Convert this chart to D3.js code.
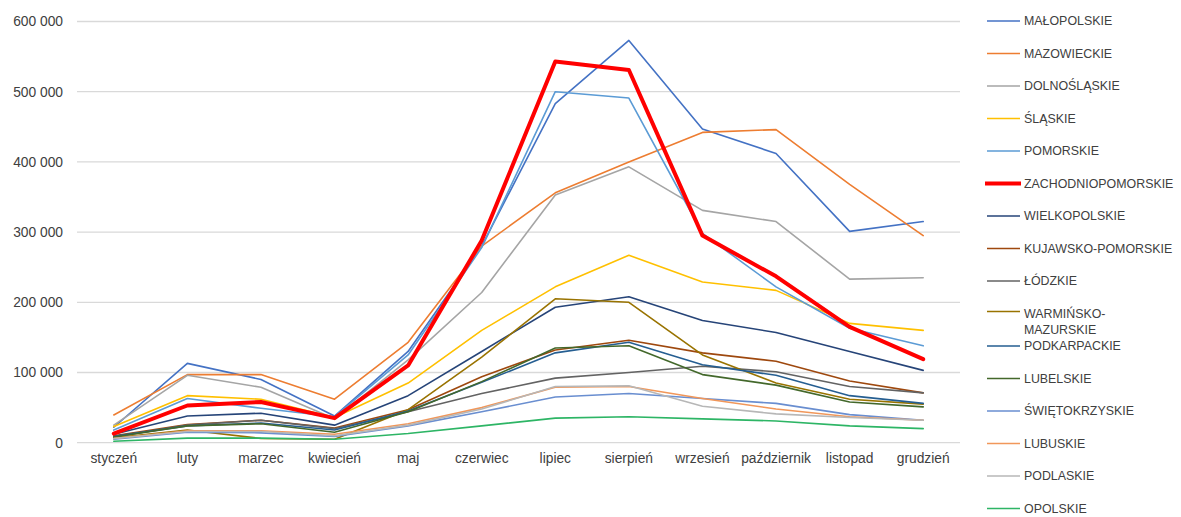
<!DOCTYPE html>
<html lang="pl">
<head>
<meta charset="utf-8">
<script src="https://cdn.jsdelivr.net/npm/d3@7"></script>
<style>
  html, body { margin: 0; padding: 0; background: #fff; }
  svg { display: block; }
  text { font-family: "Liberation Sans", Arial, sans-serif; fill: #404040; }
</style>
</head>
<body>
<svg id="chart" width="1181" height="517"></svg>
<script>
// Months on the x axis
const months = ["styczeń", "luty", "marzec", "kwiecień", "maj", "czerwiec",
  "lipiec", "sierpień", "wrzesień", "październik", "listopad", "grudzień"];

// Y axis ticks
const yTicks = [0, 100000, 200000, 300000, 400000, 500000, 600000];

// Voivodeship names, in legend order
const regions = ["MAŁOPOLSKIE", "MAZOWIECKIE", "DOLNOŚLĄSKIE", "ŚLĄSKIE", "POMORSKIE",
  "ZACHODNIOPOMORSKIE", "WIELKOPOLSKIE", "KUJAWSKO-POMORSKIE", "ŁÓDZKIE",
  "WARMIŃSKO-MAZURSKIE", "PODKARPACKIE", "LUBELSKIE", "ŚWIĘTOKRZYSKIE",
  "LUBUSKIE", "PODLASKIE", "OPOLSKIE"];

const colors = ["#4472C4", "#ED7D31", "#A5A5A5", "#FFC000", "#5B9BD5",
  "#FF0000", "#264478", "#9E480E", "#636363",
  "#997300", "#255E91", "#43682B", "#698ED0",
  "#F1975A", "#B7B7B7", "#2DB565"];

// Monthly values per voivodeship
const malopolskie        = [22000, 113000, 90000, 38000, 130000, 280000, 483000, 573000, 447000, 412000, 301000, 315000];
const mazowieckie        = [39500, 97000, 97000, 62000, 143000, 280000, 356000, 400000, 442000, 446000, 368000, 295000];
const dolnoslaskie       = [25000, 96000, 79000, 34000, 118000, 214000, 353000, 393000, 331000, 315000, 233000, 235000];
const slaskie            = [23000, 67000, 62000, 36000, 85000, 160000, 222000, 267000, 229000, 217000, 170000, 160000];
const pomorskie          = [18000, 63000, 49000, 37000, 125000, 278000, 500000, 491000, 298000, 222000, 163000, 138000];
const zachodniopomorskie = [13000, 53000, 58000, 35000, 110000, 288000, 543000, 531000, 295000, 237000, 165000, 119000];
const wielkopolskie      = [12000, 38000, 42000, 25000, 67000, 130000, 193000, 208000, 174000, 157000, 130000, 103000];
const kujawskoPomorskie  = [10000, 26000, 32000, 21000, 47000, 94000, 132000, 146000, 128000, 116000, 88000, 71000];
const lodzkie            = [8000, 25000, 32000, 20000, 44000, 70000, 92000, 100000, 109000, 101000, 80000, 71000];
const warminskoMazurskie = [7000, 18000, 6000, 5000, 47000, 122000, 205000, 200000, 125000, 85000, 62000, 55000];
const podkarpackie       = [9000, 24000, 28000, 18000, 45000, 86000, 128000, 143000, 111000, 96000, 67000, 56000];
const lubelskie          = [8000, 24000, 27000, 15000, 44000, 87000, 135000, 138000, 97000, 82000, 58000, 51000];
const swietokrzyskie     = [5000, 15000, 14000, 9000, 24000, 44000, 65000, 70000, 63000, 56000, 40000, 32000];
const lubuskie           = [6000, 17000, 17000, 12000, 27000, 50000, 79000, 80000, 63000, 48000, 37000, 32000];
const podlaskie          = [6000, 16000, 16000, 10000, 25000, 48000, 80000, 81000, 52000, 41000, 36000, 32000];
const opolskie           = [2000, 6500, 6500, 5000, 13000, 24000, 35000, 37000, 34000, 31000, 24000, 20000];

const seriesValues = [malopolskie, mazowieckie, dolnoslaskie, slaskie, pomorskie,
  zachodniopomorskie, wielkopolskie, kujawskoPomorskie, lodzkie, warminskoMazurskie,
  podkarpackie, lubelskie, swietokrzyskie, lubuskie, podlaskie, opolskie];

const series = regions.map((name, i) => ({ name, color: colors[i], values: seriesValues[i] }));

const svg = d3.select("#chart");
const plot = { left: 77, right: 960, top: 21.5, bottom: 442.7 };

const x = d3.scaleBand().domain(months).range([plot.left, plot.right]);
const y = d3.scaleLinear().domain([0, 600000]).range([plot.bottom, plot.top]);

const fmt = v => d3.format(",")(v).replace(/,/g, " ");

// Horizontal gridlines
svg.append("g")
  .selectAll("line")
  .data(yTicks)
  .join("line")
  .attr("x1", plot.left).attr("x2", plot.right)
  .attr("y1", d => y(d)).attr("y2", d => y(d))
  .attr("stroke", "#d9d9d9").attr("stroke-width", 1.3);

// Y axis labels
const yAxis = svg.append("g")
  .attr("transform", `translate(${plot.left - 14},0)`)
  .call(d3.axisLeft(y).tickValues(yTicks).tickFormat(fmt).tickSize(0).tickPadding(0));
yAxis.select(".domain").remove();
yAxis.selectAll("text")
  .attr("font-size", 13.8)
  .attr("font-family", "Liberation Sans, Arial, sans-serif")
  .attr("fill", "#404040");

// X axis labels
const xAxis = svg.append("g")
  .attr("transform", `translate(0,${plot.bottom})`)
  .call(d3.axisBottom(x).tickSize(0).tickPadding(11));
xAxis.select(".domain").remove();
xAxis.selectAll("text")
  .attr("font-size", 13.8)
  .attr("font-family", "Liberation Sans, Arial, sans-serif")
  .attr("fill", "#404040");

// Series lines (red one drawn last so it sits on top)
const line = d3.line()
  .x((d, i) => x(months[i]) + x.bandwidth() / 2)
  .y(d => y(d));

const ordered = series.filter(s => s.name !== "ZACHODNIOPOMORSKIE")
  .concat(series.filter(s => s.name === "ZACHODNIOPOMORSKIE"));

svg.append("g")
  .selectAll("path")
  .data(ordered)
  .join("path")
  .attr("d", s => line(s.values))
  .attr("fill", "none")
  .attr("stroke", s => s.color)
  .attr("stroke-width", s => s.name === "ZACHODNIOPOMORSKIE" ? 4 : 1.6)
  .attr("stroke-linejoin", "round")
  .attr("stroke-linecap", "round");

// Legend
const ly = d3.scalePoint().domain(regions).range([21, 508.5]);
const legend = svg.append("g")
  .selectAll("g")
  .data(series)
  .join("g")
  .attr("transform", s => `translate(0,${ly(s.name)})`);

legend.append("line")
  .attr("x1", s => s.name === "ZACHODNIOPOMORSKIE" ? 985 : 987)
  .attr("x2", s => s.name === "ZACHODNIOPOMORSKIE" ? 1021 : 1020)
  .attr("y1", s => s.name === "WARMIŃSKO-MAZURSKIE" ? -2 : 0)
  .attr("y2", s => s.name === "WARMIŃSKO-MAZURSKIE" ? -2 : 0)
  .attr("stroke", s => s.color)
  .attr("stroke-width", s => s.name === "ZACHODNIOPOMORSKIE" ? 4 : 1.6);

legend.append("text")
  .attr("x", 1024)
  .attr("font-size", 12.4)
  .attr("fill", "#404040")
  .each(function (s) {
    const t = d3.select(this);
    if (s.name === "WARMIŃSKO-MAZURSKIE") {
      t.append("tspan").attr("x", 1024).attr("y", 0).attr("dy", "0.35em").text("WARMIŃSKO-");
      t.append("tspan").attr("x", 1024).attr("y", 16.5).attr("dy", "0.35em").text("MAZURSKIE");
    } else {
      t.attr("dy", "0.35em").text(s.name);
    }
  });
</script>
</body>
</html>
